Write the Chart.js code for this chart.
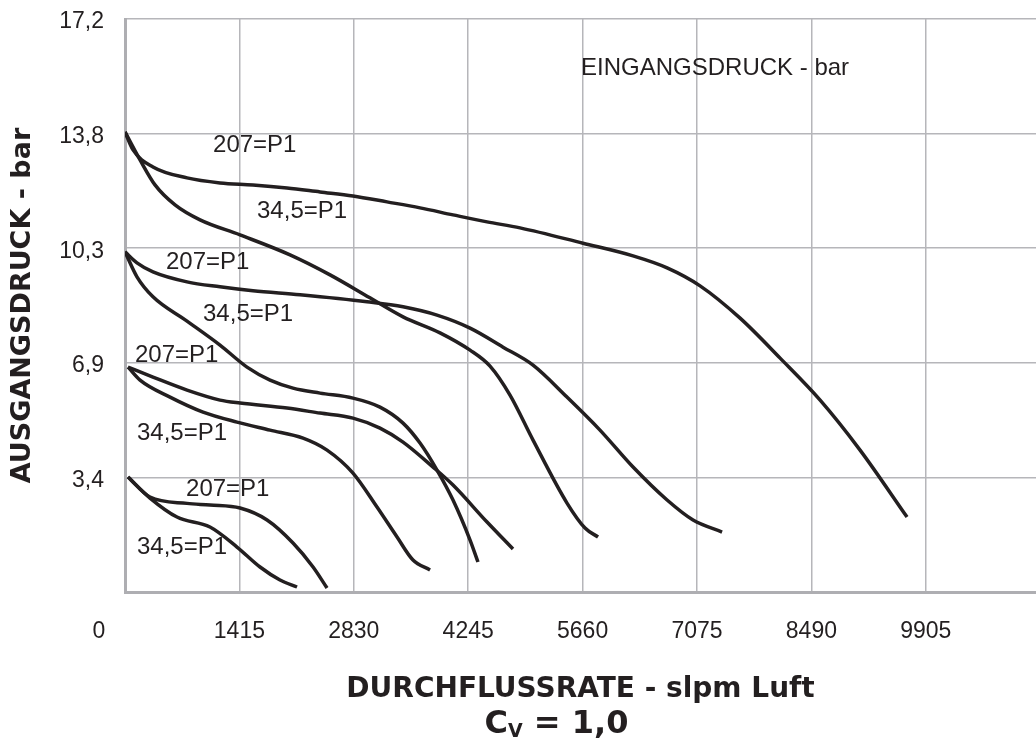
<!DOCTYPE html>
<html>
<head>
<meta charset="utf-8">
<title>Ausgangsdruck / Durchflussrate</title>
<script src="https://cdn.jsdelivr.net/npm/chart.js@4"></script>
<style>
  html, body { margin: 0; padding: 0; background: #fff; }
</style>
</head>
<body>
<canvas id="chart" width="1036" height="740"></canvas>
<script>
// ==========================
// Data
// ==========================

const flowTicks = [0, 1415, 2830, 4245, 5660, 7075, 8490, 9905];
const flowMax = 11268;
const pressTicks = [0, 3.44, 6.88, 10.32, 13.76, 17.2];
const pressTickLabels = ["", "3,4", "6,9", "10,3", "13,8", "17,2"];

// outlet 13,8 bar
const flow207_138 = [0, 99, 346, 767, 1175, 1583, 2004, 2412, 2820, 3241, 3649, 4057, 4478, 4886, 5665, 6284, 6705, 7113, 7608, 8103, 8598, 9092, 9673];
const bar207_138 = [13.81, 13.27, 12.76, 12.43, 12.28, 12.22, 12.13, 12.01, 11.89, 11.71, 11.53, 11.32, 11.11, 10.93, 10.47, 10.09, 9.73, 9.19, 8.22, 7.02, 5.76, 4.26, 2.25];
const flow345_138 = [0, 186, 371, 619, 928, 1422, 2041, 2536, 3030, 3439, 3896, 4268, 4515, 4762, 5047, 5467, 5690, 5851];
const bar345_138 = [13.81, 12.97, 12.22, 11.62, 11.17, 10.72, 10.12, 9.52, 8.83, 8.26, 7.78, 7.26, 6.78, 5.91, 4.56, 2.67, 1.92, 1.65];

// outlet 10,3 bar
const flow207_103 = [0, 148, 346, 767, 1175, 1583, 2165, 2993, 3439, 3859, 4268, 4676, 5047, 5467, 5875, 6284, 6705, 7026, 7385];
const bar207_103 = [10.21, 9.88, 9.61, 9.31, 9.16, 9.04, 8.92, 8.71, 8.56, 8.31, 7.92, 7.35, 6.81, 5.85, 4.86, 3.75, 2.76, 2.16, 1.8];
const flow345_103 = [0, 148, 346, 767, 1175, 1509, 1794, 2078, 2412, 2820, 3154, 3439, 3649, 3859, 4057, 4268, 4366];
const bar345_103 = [10.21, 9.46, 8.86, 8.13, 7.41, 6.75, 6.36, 6.12, 5.97, 5.82, 5.55, 5.07, 4.47, 3.66, 2.76, 1.56, 0.9];

// outlet 6,9 bar
const flow207_69 = [37, 346, 767, 1175, 1423, 2004, 2412, 2820, 3154, 3439, 3810, 4057, 4478, 4799];
const bar207_69 = [6.75, 6.45, 6.06, 5.76, 5.67, 5.52, 5.37, 5.22, 4.92, 4.5, 3.75, 3.21, 2.1, 1.29];
const flow345_69 = [37, 186, 557, 965, 1385, 1794, 2202, 2499, 2820, 3117, 3365, 3562, 3773];
const bar345_69 = [6.75, 6.36, 5.85, 5.4, 5.1, 4.86, 4.62, 4.26, 3.57, 2.55, 1.65, 0.96, 0.66];

// outlet 3,4 bar
const flow207_34 = [37, 309, 767, 1051, 1423, 1757, 2078, 2326, 2499];
const bar207_34 = [3.45, 2.85, 2.66, 2.61, 2.52, 2.16, 1.47, 0.75, 0.12];
const flow345_34 = [37, 309, 643, 1051, 1385, 1670, 1917, 2128];
const bar345_34 = [3.45, 2.82, 2.25, 1.95, 1.35, 0.75, 0.36, 0.15];

// curve labels, placed in data units (left edge, middle)
const labelTexts = ["EINGANGSDRUCK - bar", "207=P1", "34,5=P1", "207=P1", "34,5=P1", "207=P1", "34,5=P1", "207=P1", "34,5=P1"];
const labelFlow = [5641, 1089, 1633, 507, 965, 124, 148, 755, 148];
const labelBar = [15.73, 13.42, 11.44, 9.88, 8.34, 7.11, 4.77, 3.09, 1.35];


// ==========================
// Chart
// ==========================

const INK = "#231f20";
const GRID = "#b6b6ba";

Chart.defaults.font.family = "'Liberation Sans', Arial, sans-serif";
Chart.defaults.color = INK;

function curve(flow, bar) {
    return {
        data: flow.map((x, i) => ({ x: x, y: bar[i] })),
        borderColor: INK,
        borderWidth: 3.5,
        pointRadius: 0,
        fill: false,
        cubicInterpolationMode: "monotone"
    };
}

const curveLabels = {
    id: "curveLabels",
    beforeDatasetsDraw(chart) {
        const ctx = chart.ctx;
        const xs = chart.scales.x;
        const ys = chart.scales.y;
        ctx.save();
        ctx.fillStyle = INK;
        ctx.font = "24px 'Liberation Sans', Arial, sans-serif";
        ctx.textAlign = "left";
        ctx.textBaseline = "middle";
        labelTexts.forEach((t, i) => {
            ctx.fillText(t, xs.getPixelForValue(labelFlow[i]), ys.getPixelForValue(labelBar[i]));
        });
        ctx.restore();
    }
};

// the "0" tick sits left of the axis in the original, and the Cv line has a subscript
const extraText = {
    id: "extraText",
    afterDraw(chart) {
        const ctx = chart.ctx;
        const xs = chart.scales.x;
        const area = chart.chartArea;
        ctx.save();
        ctx.fillStyle = INK;

        ctx.font = "23px 'Liberation Sans', Arial, sans-serif";
        ctx.textAlign = "center";
        ctx.textBaseline = "middle";
        ctx.fillText("0", xs.getPixelForValue(0) - 26, xs.top + 26 + 23 * 1.2 / 2);

        const big = "bold 32px 'DejaVu Sans', sans-serif";
        const small = "bold 19px 'DejaVu Sans', sans-serif";
        ctx.textAlign = "left";
        ctx.textBaseline = "alphabetic";
        ctx.font = big;
        const wC = ctx.measureText("C").width;
        const wRest = ctx.measureText(" = 1,0").width;
        ctx.font = small;
        const wV = ctx.measureText("V").width;
        const total = wC + wV + wRest;
        let x = (area.left + area.right) / 2 - 24 - total / 2;
        const base = 733;
        ctx.font = big;
        ctx.fillText("C", x, base);
        x += wC;
        ctx.font = small;
        ctx.fillText("V", x, base + 4);
        x += wV;
        ctx.font = big;
        ctx.fillText(" = 1,0", x, base);
        ctx.restore();
    }
};

new Chart(document.getElementById("chart"), {
    type: "line",
    data: {
        datasets: [
            curve(flow207_138, bar207_138),
            curve(flow345_138, bar345_138),
            curve(flow207_103, bar207_103),
            curve(flow345_103, bar345_103),
            curve(flow207_69, bar207_69),
            curve(flow345_69, bar345_69),
            curve(flow207_34, bar207_34),
            curve(flow345_34, bar345_34)
        ]
    },
    options: {
        responsive: false,
        animation: false,
        layout: { padding: { top: 19, right: 0, bottom: 0, left: 0 } },
        plugins: {
            legend: { display: false },
            tooltip: { enabled: false }
        },
        scales: {
            x: {
                type: "linear",
                min: 0,
                max: flowMax,
                afterBuildTicks: (scale) => { scale.ticks = flowTicks.map(v => ({ value: v })); },
                afterFit: (scale) => {
                    scale.height = 148;
                    scale.paddingLeft = 0;
                    scale.paddingRight = 0;
                },
                grid: { color: GRID, lineWidth: 1.5, drawTicks: false },
                border: { color: "#aeaeb2", width: 3 },
                ticks: {
                    padding: 26,
                    maxRotation: 0,
                    autoSkip: false,
                    font: { size: 23 },
                    callback: (v) => (v === 0 ? "" : String(v))
                },
                title: {
                    display: true,
                    text: "DURCHFLUSSRATE - slpm Luft",
                    font: { family: "'DejaVu Sans', sans-serif", size: 28, weight: "bold" },
                    padding: { top: 0, bottom: 33 }
                }
            },
            y: {
                min: 0,
                max: 17.2,
                afterBuildTicks: (scale) => { scale.ticks = pressTicks.map(v => ({ value: v })); },
                afterFit: (scale) => {
                    scale.width = 125;
                    scale.paddingTop = 0;
                    scale.paddingBottom = 0;
                },
                grid: { color: GRID, lineWidth: 1.5, drawTicks: false },
                border: { color: "#aeaeb2", width: 3 },
                ticks: {
                    padding: 21,
                    labelOffset: 3,
                    autoSkip: false,
                    font: { size: 23 },
                    callback: (v, i) => pressTickLabels[i]
                },
                title: {
                    display: true,
                    text: "AUSGANGSDRUCK - bar",
                    font: { family: "'DejaVu Sans', sans-serif", size: 27, weight: "bold" },
                    padding: { top: 7, bottom: 0 }
                }
            }
        }
    },
    plugins: [curveLabels, extraText]
});
</script>
</body>
</html>
